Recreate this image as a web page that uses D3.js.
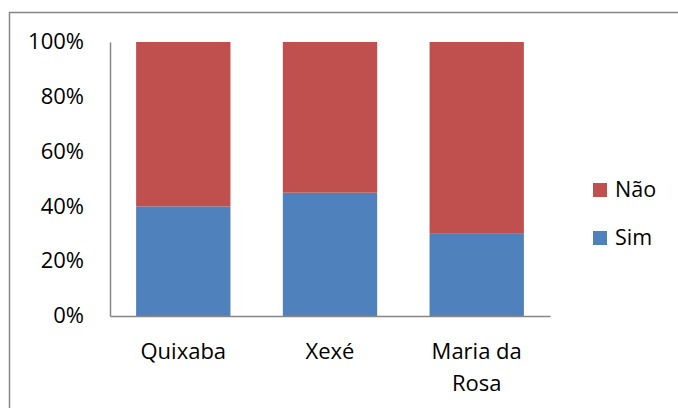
<!DOCTYPE html>
<html><head><meta charset="utf-8">
<script src="https://cdn.jsdelivr.net/npm/d3@7"></script>
<style>body{margin:0;background:#fff}svg{display:block}text{font-family:"Open Sans",sans-serif;fill:#000}</style>
</head><body>
<script>
const categories = [["Quixaba"], ["Xexé"], ["Maria da", "Rosa"]];
const categoryKeys = ["Quixaba", "Xexé", "Maria da Rosa"];
const simValues = [0.40, 0.45, 0.30];
const naoValues = [0.60, 0.55, 0.70];
const seriesNames = ["Sim", "Não"];
const seriesColors = ["#4F81BD", "#C0504D"];
const tickValues = [0, 0.2, 0.4, 0.6, 0.8, 1.0];

const W = 678, H = 408;
const svg = d3.select("body").append("svg").attr("width", W).attr("height", H);
svg.append("rect").attr("x", 9.5).attr("y", 12.5).attr("width", 700).attr("height", 420)
  .attr("fill", "#fff").attr("stroke", "#868686").attr("stroke-width", 1.5);

const x = d3.scaleBand().domain(categoryKeys).range([110, 550]).paddingInner(0.357).paddingOuter(0.178);
const y = d3.scaleLinear().domain([0, 1]).range([316, 42]);

const rows = categoryKeys.map((k, i) => ({ key: k, Sim: simValues[i], "Não": naoValues[i] }));
const stacked = d3.stack().keys(seriesNames)(rows);

svg.append("g").selectAll("g").data(stacked).join("g")
  .attr("fill", (d, i) => seriesColors[i])
  .selectAll("rect").data(d => d).join("rect")
  .attr("x", d => x(d.data.key)).attr("width", x.bandwidth())
  .attr("y", d => y(d[1])).attr("height", d => y(d[0]) - y(d[1]));

const yAxis = svg.append("g").attr("transform", "translate(110,0)")
  .call(d3.axisLeft(y).tickValues(tickValues).tickFormat(d3.format(".0%")).tickSize(0).tickPadding(26));
yAxis.select(".domain").attr("stroke", "#868686").attr("stroke-width", 1.5);
yAxis.selectAll("text").attr("font-size", 22).attr("font-family", "'Open Sans',sans-serif").attr("fill", "#000").attr("dy", "0.3em");

const xAxis = svg.append("g").attr("transform", "translate(0,316)")
  .call(d3.axisBottom(x).tickSize(0).tickFormat(""));
xAxis.select(".domain").attr("stroke", "#868686").attr("stroke-width", 1.5);

categoryKeys.forEach((k, i) => {
  const cx = x(k) + x.bandwidth() / 2;
  const t = svg.append("text").attr("x", cx).attr("y", 359)
    .attr("text-anchor", "middle").attr("font-size", 22);
  categories[i].forEach((line, j) => {
    t.append("tspan").attr("x", cx).attr("dy", j === 0 ? 0 : 32).text(line);
  });
});

const legendItems = ["Não", "Sim"];
const lg = svg.append("g");
legendItems.forEach((name, i) => {
  const gy = 183 + i * 48;
  lg.append("rect").attr("x", 593).attr("y", gy).attr("width", 14).attr("height", 14)
    .attr("fill", seriesColors[seriesNames.indexOf(name)]);
  lg.append("text").attr("x", 615).attr("y", gy + 14).attr("font-size", 21.5).text(name);
});
</script>
</body></html>
